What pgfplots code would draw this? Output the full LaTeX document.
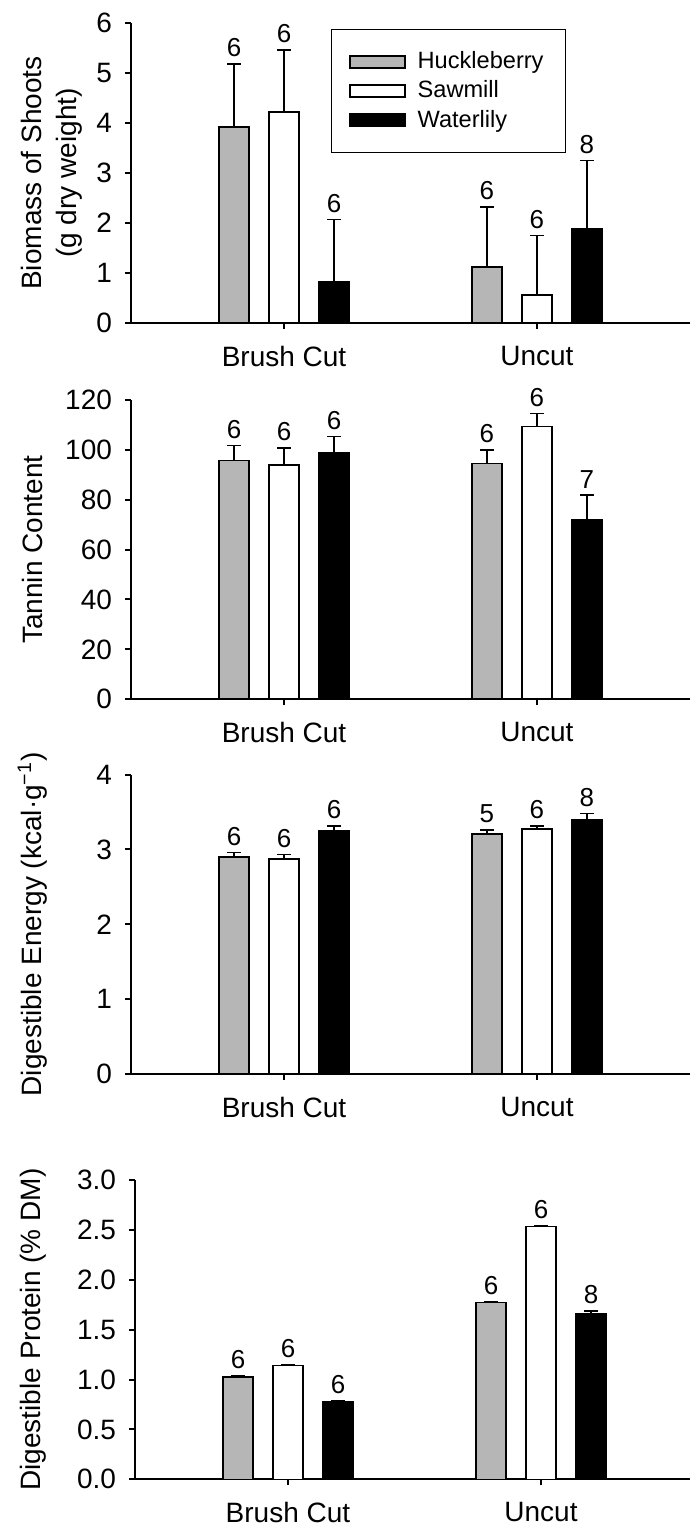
\documentclass[border=0pt]{standalone}
\usepackage{fontspec}
\setmainfont{Liberation Sans}
\usepackage{pgfplots}
\usepackage{pgfplotstable}
\pgfplotsset{compat=1.18}
\definecolor{barGray}{RGB}{182,182,182}

% columns: x, Huckleberry (mean, SE, n), Sawmill (mean, SE, n), Waterlily (mean, SE, n)
\pgfplotstableread{
x hy he hn sy se sn wy we wn
0 3.92 1.26 6 4.22 1.25 6 0.81 1.26 6
1 1.12 1.20 6 0.555 1.195 6 1.88 1.37 8
}\tbiomass
\pgfplotstableread{
x hy he hn sy se sn wy we wn
0 95.7 6.0 6 93.9 6.7 6 98.9 6.4 6
1 94.5 5.3 6 109.3 5.2 6 72.0 9.8 7
}\ttannin
\pgfplotstableread{
x hy he hn sy se sn wy we wn
0 2.90 0.06 6 2.876 0.055 6 3.25 0.06 6
1 3.21 0.05 5 3.27 0.045 6 3.40 0.08 8
}\tenergy
\pgfplotstableread{
x hy he hn sy se sn wy we wn
0 1.025 0.012 6 1.142 0.010 6 0.778 0.012 6
1 1.770 0.010 6 2.535 0.008 6 1.663 0.025 8
}\tprotein

\newcommand\countfont{\fontsize{13}{15}\selectfont}

\pgfplotsset{
  panel/.style={
    ybar, bar width=15pt,
    scale only axis,
    height=149.7pt,
    anchor=south west,
    axis x line=bottom, axis y line=left,
    axis line style={-, line width=1pt},
    tick style={line width=1pt, black},
    tick align=outside,
    major tick length=3pt,
    xtick={0,1},
    xticklabels={Brush Cut, Uncut},
    xticklabel style={yshift=-5pt},
    yticklabel style={xshift=-3pt},
    ymin=0,
    font=\fontsize{14}{16.8}\selectfont,
    tick label style={font=\fontsize{14}{16.8}\selectfont},
    /pgf/number format/assume math mode=true,
    clip=false,
    legend image code/.code={\draw[#1, line width=0.8pt] (0pt,-3pt) rectangle (27.5pt,3pt);},
  },
  mybar/.style={draw=black, line width=0.8pt, fill=#1,
    error bars/y dir=plus, error bars/y explicit,
    error bars/error bar style={line width=0.8pt, black},
    error bars/error mark options={rotate=90, line width=0.8pt, mark size=3.4pt, black}},
  mycount/.style={forget plot, draw=none, fill=none,
    nodes near coords, point meta=explicit symbolic,
    every node near coord/.append style={font=\countfont, black}},
}

\newcommand\threebars[1]{%
  \addplot[mybar=barGray, bar shift=-25pt] table[x=x, y=hy, y error=he] {#1};
  \addplot[mybar=white, bar shift=0pt] table[x=x, y=sy, y error=se] {#1};
  \addplot[mybar=black, bar shift=25pt] table[x=x, y=wy, y error=we] {#1};
  \addplot[mycount, bar shift=-25pt] table[x=x, y expr=\thisrow{hy}+\thisrow{he}, meta=hn] {#1};
  \addplot[mycount, bar shift=0pt] table[x=x, y expr=\thisrow{sy}+\thisrow{se}, meta=sn] {#1};
  \addplot[mycount, bar shift=25pt] table[x=x, y expr=\thisrow{wy}+\thisrow{we}, meta=wn] {#1};
}

\begin{document}
\begin{tikzpicture}
\useasboundingbox (0,0) rectangle (345pt,764pt);

% Panel 1: Biomass
\begin{axis}[panel, at={(65.5pt,602.65pt)}, width=279.5pt,
  xmin=-0.605, xmax=1.605, ymax=6, ytick={0,1,...,6},
  ylabel={Biomass of Shoots\\(g dry weight)},
  ylabel style={at={(axis description cs:-0.142,0.5)}, anchor=center, align=center, font=\fontsize{14}{17.5}\selectfont},
  legend entries={Huckleberry,Sawmill,Waterlily},
  legend cell align=left,
  legend style={at={(axis description cs:0.357,0.980)}, anchor=north west,
    draw=black, line width=0.5pt, font=\fontsize{11.8}{14}\selectfont,
    inner xsep=9pt, inner ysep=9pt, row sep=0.5pt,
    /tikz/every odd column/.append style={column sep=4pt}},
]
\threebars{\tbiomass}
\end{axis}

% Panel 2: Tannin
\begin{axis}[panel, at={(65.5pt,414.35pt)}, width=279.5pt,
  xmin=-0.605, xmax=1.605, ymax=120, ytick={0,20,...,120},
  ylabel={Tannin Content},
  ylabel style={at={(axis description cs:-0.176,0.5)}, anchor=center},
]
\threebars{\ttannin}
\end{axis}

% Panel 3: Digestible energy
\begin{axis}[panel, at={(65.5pt,227pt)}, width=279.5pt,
  xmin=-0.605, xmax=1.605, ymax=4, ytick={0,1,...,4},
  ylabel={Digestible Energy (kcal·g\textsuperscript{−1})},
  ylabel style={at={(axis description cs:-0.176,0.5)}, anchor=center},
]
\threebars{\tenergy}
\end{axis}

% Panel 4: Digestible protein
\begin{axis}[panel, at={(67.5pt,24.35pt)}, width=277.5pt,
  xmin=-0.6047, xmax=1.589, ymax=3, ytick={0,0.5,...,3},
  yticklabel style={/pgf/number format/fixed, /pgf/number format/fixed zerofill, /pgf/number format/precision=1},
  ylabel={Digestible Protein (\% DM)},
  ylabel style={at={(axis description cs:-0.184,0.5)}, anchor=center},
]
\threebars{\tprotein}
\end{axis}
\end{tikzpicture}
\end{document}
